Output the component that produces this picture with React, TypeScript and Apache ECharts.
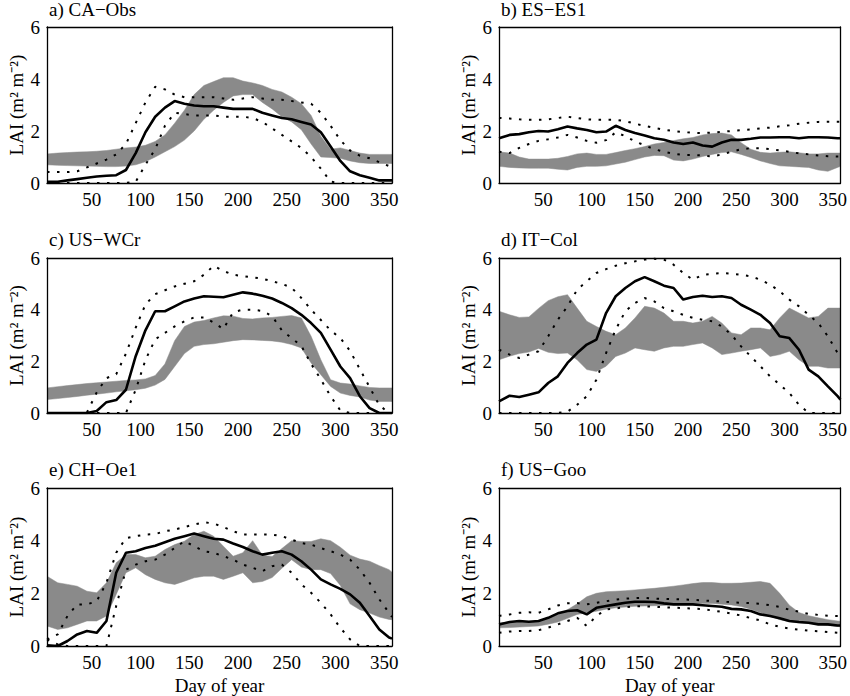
import { useEffect, useRef } from 'react'
import * as echarts from 'echarts'

// day of year of every sample
const days = [4, 15, 25, 35, 45, 55, 65, 75, 85, 95, 105, 115, 125, 135, 145, 155, 165, 175, 185, 195, 205, 215, 225, 235, 245, 255, 265, 275, 285, 295, 305, 315, 325, 335, 345, 355, 358]
const xTicks = [50, 100, 150, 200, 250, 300, 350]
const yTicks = [0, 2, 4, 6]

// a) CA-Obs
const caObsLine = [0.05, 0.05, 0.1, 0.15, 0.2, 0.25, 0.28, 0.3, 0.5, 1.15, 1.95, 2.55, 2.9, 3.15, 3.05, 2.98, 2.95, 2.95, 2.9, 2.85, 2.85, 2.85, 2.7, 2.6, 2.5, 2.45, 2.35, 2.25, 1.95, 1.4, 0.85, 0.45, 0.3, 0.2, 0.1, 0.1, 0.1]
const caObsLow = [0.7, 0.68, 0.67, 0.66, 0.65, 0.64, 0.63, 0.63, 0.65, 0.7, 0.82, 1.0, 1.2, 1.4, 1.65, 2.0, 2.45, 2.8, 3.1, 3.35, 3.4, 3.4, 3.1, 2.85, 2.55, 2.35, 2.05, 1.5, 1.0, 0.98, 0.95, 0.85, 0.78, 0.75, 0.75, 0.75, 0.75]
const caObsHigh = [1.12, 1.15, 1.17, 1.19, 1.2, 1.22, 1.25, 1.3, 1.35, 1.38, 1.45, 1.6, 1.85, 2.3, 2.8, 3.4, 3.75, 3.9, 4.05, 4.05, 3.92, 3.85, 3.75, 3.6, 3.5, 3.3, 3.05, 2.6, 1.8, 1.3, 1.35, 1.25, 1.15, 1.1, 1.1, 1.1, 1.1]
const caObsUpper = [0.42, 0.42, 0.42, 0.45, 0.6, 0.75, 0.9, 1.1, 1.5, 2.3, 3.1, 3.7, 3.6, 3.4, 3.3, 3.3, 3.3, 3.3, 3.25, 3.2, 3.25, 3.3, 3.25, 3.2, 3.2, 3.15, 3.1, 3.05, 2.7, 2.2, 1.65, 1.25, 1.05, 0.95, 0.8, 0.65, 0.6]
const caObsLower = [0, 0, 0, 0, 0, 0, 0, 0, 0, 0.05, 0.7, 1.3, 2.2, 2.7, 2.65, 2.6, 2.6, 2.6, 2.55, 2.55, 2.55, 2.5, 2.35, 2.1, 1.85, 1.6, 1.35, 1.0, 0.55, 0.05, 0, 0, 0, 0, 0, 0, 0]

// b) ES-ES1
const esEs1Line = [1.72, 1.85, 1.88, 1.95, 2.0, 1.98, 2.07, 2.17, 2.1, 2.04, 1.95, 1.98, 2.2, 2.04, 1.92, 1.83, 1.72, 1.66, 1.56, 1.5, 1.56, 1.44, 1.4, 1.56, 1.66, 1.66, 1.7, 1.75, 1.75, 1.76, 1.76, 1.72, 1.76, 1.76, 1.75, 1.72, 1.72]
const esEs1Low = [0.64, 0.6, 0.58, 0.57, 0.57, 0.57, 0.53, 0.5, 0.6, 0.64, 0.64, 0.66, 0.73, 0.8, 0.9, 1.0, 1.06, 1.05, 0.88, 0.85, 0.92, 1.02, 1.1, 1.17, 1.2, 1.1, 0.98, 0.85, 0.75, 0.66, 0.64, 0.62, 0.6, 0.5, 0.45, 0.6, 0.64]
const esEs1High = [1.2, 1.15, 1.0, 0.92, 0.92, 0.92, 0.95, 1.02, 1.12, 1.15, 1.1, 1.1, 1.17, 1.25, 1.32, 1.4, 1.5, 1.56, 1.63, 1.7, 1.75, 1.85, 1.9, 1.92, 1.85, 1.55, 1.3, 1.18, 1.15, 1.18, 1.2, 1.16, 1.12, 1.12, 1.15, 1.15, 1.15]
const esEs1Upper = [2.5, 2.48, 2.45, 2.43, 2.43, 2.45, 2.5, 2.55, 2.5, 2.45, 2.43, 2.43, 2.43, 2.38, 2.28, 2.2, 2.12, 2.05, 2.0, 1.96, 1.93, 1.92, 1.94, 1.97, 2.0, 2.03, 2.06, 2.1, 2.13, 2.18, 2.22, 2.28, 2.32, 2.35, 2.36, 2.36, 2.36]
const esEs1Lower = [1.2, 1.15, 1.35, 1.5, 1.62, 1.68, 1.75, 1.85, 1.75, 1.62, 1.55, 1.65, 1.95, 1.8, 1.6, 1.45, 1.3, 1.2, 1.12, 1.08, 1.08, 1.06, 1.02, 1.1, 1.2, 1.3, 1.34, 1.34, 1.3, 1.25, 1.2, 1.14, 1.1, 1.06, 1.03, 1.02, 1.02]

// c) US-WCr
const usWcrLine = [0, 0, 0, 0, 0, 0.08, 0.42, 0.5, 0.9, 2.2, 3.2, 3.94, 3.94, 4.13, 4.32, 4.43, 4.52, 4.5, 4.48, 4.58, 4.67, 4.62, 4.54, 4.43, 4.26, 4.06, 3.8, 3.48, 3.1, 2.45, 1.8, 1.35, 0.65, 0.19, 0, 0, 0]
const usWcrLow = [0.52, 0.56, 0.6, 0.64, 0.69, 0.73, 0.77, 0.82, 0.86, 0.9, 0.96, 1.08, 1.3, 1.8, 2.3, 2.58, 2.65, 2.68, 2.74, 2.8, 2.84, 2.83, 2.81, 2.79, 2.74, 2.65, 2.52, 1.94, 1.48, 1.03, 0.77, 0.68, 0.62, 0.5, 0.45, 0.45, 0.45]
const usWcrHigh = [0.97, 1.02, 1.06, 1.1, 1.14, 1.17, 1.2, 1.23, 1.26, 1.28, 1.32, 1.45, 1.9, 2.8, 3.35, 3.52, 3.58, 3.68, 3.76, 3.75, 3.66, 3.64, 3.68, 3.7, 3.74, 3.77, 3.68, 2.97, 2.06, 1.29, 1.16, 1.12, 1.05, 0.99, 0.97, 0.97, 0.97]
const usWcrUpper = [0, 0, 0, 0, 0.02, 0.8, 1.35, 1.5, 2.3, 3.3, 4.2, 4.6, 4.75, 4.9, 5.0, 5.1, 5.35, 5.7, 5.5, 5.35, 5.3, 5.25, 5.2, 5.1, 5.0, 4.85, 4.45, 4.0, 3.6, 3.2, 2.9, 2.4, 1.7, 1.0, 0.3, 0, 0]
const usWcrLower = [0, 0, 0, 0, 0, 0, 0, 0, 0, 0.9, 2.05, 2.85, 3.1, 3.35, 3.55, 3.7, 3.7, 3.5, 3.25, 3.9, 4.0, 4.0, 3.95, 3.75, 3.2, 2.9, 2.6, 1.9, 1.3, 0.65, 0.1, 0, 0, 0, 0, 0, 0]

// d) IT-Col
const itColLine = [0.45, 0.67, 0.62, 0.71, 0.8, 1.16, 1.42, 1.94, 2.32, 2.65, 2.84, 3.87, 4.52, 4.84, 5.1, 5.26, 5.1, 4.93, 4.84, 4.39, 4.49, 4.54, 4.49, 4.52, 4.45, 4.19, 4.0, 3.8, 3.48, 2.97, 2.9, 2.45, 1.68, 1.42, 1.03, 0.65, 0.52]
const itColLow = [2.06, 2.2, 2.3, 2.36, 2.5, 2.35, 2.3, 2.32, 2.06, 1.68, 1.61, 1.81, 2.19, 2.32, 2.52, 2.45, 2.39, 2.52, 2.58, 2.58, 2.65, 2.71, 2.52, 2.26, 2.32, 2.39, 2.45, 2.52, 2.19, 2.26, 2.39, 2.06, 1.81, 1.81, 1.74, 1.74, 1.74]
const itColHigh = [3.94, 3.8, 3.7, 3.72, 4.05, 4.35, 4.5, 4.58, 4.06, 3.55, 3.35, 3.16, 3.03, 3.29, 3.68, 4.13, 4.06, 3.87, 3.55, 3.55, 3.48, 3.55, 3.74, 3.48, 3.1, 3.03, 3.29, 3.29, 3.22, 3.68, 4.06, 3.87, 3.68, 3.74, 4.06, 4.06, 4.06]
const itColUpper = [2.45, 2.26, 2.13, 2.26, 2.39, 2.97, 3.61, 4.13, 4.77, 5.1, 5.42, 5.57, 5.7, 5.8, 5.87, 5.94, 5.97, 5.94, 5.74, 5.42, 5.16, 5.35, 5.39, 5.42, 5.39, 5.35, 5.29, 5.16, 4.97, 4.71, 4.39, 4.13, 3.8, 3.48, 2.97, 2.32, 2.2]
const itColLower = [0, 0, 0, 0, 0, 0, 0, 0.05, 0.32, 0.65, 1.29, 2.32, 3.23, 3.94, 4.26, 4.45, 4.32, 4.06, 3.94, 3.8, 3.68, 3.61, 3.55, 3.35, 3.03, 2.58, 2.19, 1.81, 1.42, 1.1, 0.77, 0.32, 0, 0, 0, 0, 0]

// e) CH-Oe1
const chOe1Line = [0.03, 0, 0.19, 0.44, 0.57, 0.5, 0.95, 2.78, 3.54, 3.6, 3.72, 3.81, 3.94, 4.07, 4.17, 4.27, 4.17, 4.07, 4.04, 3.89, 3.76, 3.6, 3.47, 3.54, 3.6, 3.47, 3.22, 2.9, 2.53, 2.34, 2.17, 1.96, 1.64, 1.14, 0.63, 0.32, 0.28]
const chOe1Low = [0.76, 0.63, 0.69, 0.82, 0.95, 0.95, 1.14, 1.96, 2.78, 2.97, 2.71, 2.53, 2.4, 2.34, 2.46, 2.59, 2.65, 2.65, 2.53, 2.65, 2.78, 2.4, 2.45, 2.6, 2.95, 3.28, 3.0, 2.9, 2.9, 2.75, 2.3, 1.6, 1.38, 1.25, 1.1, 1.01, 1.0]
const chOe1High = [2.65, 2.4, 2.34, 2.27, 2.08, 2.02, 2.4, 3.16, 3.47, 3.47, 3.35, 3.41, 3.66, 3.85, 3.98, 4.23, 4.36, 4.17, 3.79, 3.41, 3.54, 4.0, 3.45, 3.4, 3.7, 4.0, 3.97, 3.97, 4.07, 4.0, 3.75, 3.45, 3.3, 3.22, 3.05, 2.9, 2.8]
const chOe1Upper = [0.25, 0.44, 1.14, 1.58, 1.58, 1.7, 2.4, 3.54, 4.1, 4.17, 4.23, 4.25, 4.36, 4.42, 4.52, 4.61, 4.7, 4.65, 4.52, 4.36, 4.23, 4.23, 4.23, 4.23, 4.17, 4.04, 3.91, 3.85, 3.72, 3.6, 3.47, 3.28, 2.9, 2.4, 1.77, 1.26, 1.1]
const chOe1Lower = [0.25, 0.06, 0, 0, 0, 0, 0, 1.52, 2.9, 3.09, 3.22, 3.28, 3.47, 3.72, 3.98, 3.79, 3.6, 3.54, 3.41, 3.28, 3.09, 2.97, 2.84, 3.03, 3.09, 2.78, 2.34, 2.02, 1.64, 1.2, 0.69, 0.25, 0, 0, 0, 0, 0]

// f) US-Goo
const usGooLine = [0.82, 0.91, 0.95, 0.92, 0.95, 1.07, 1.24, 1.33, 1.36, 1.2, 1.45, 1.52, 1.58, 1.64, 1.68, 1.68, 1.67, 1.62, 1.58, 1.58, 1.58, 1.55, 1.52, 1.49, 1.41, 1.39, 1.33, 1.2, 1.14, 1.05, 0.95, 0.91, 0.88, 0.82, 0.82, 0.78, 0.78]
const usGooLow = [0.69, 0.7, 0.72, 0.74, 0.76, 0.83, 0.91, 1.05, 1.2, 1.26, 1.32, 1.4, 1.45, 1.48, 1.51, 1.52, 1.53, 1.54, 1.56, 1.58, 1.6, 1.61, 1.61, 1.59, 1.56, 1.5, 1.4, 1.26, 1.13, 1.0, 0.92, 0.87, 0.85, 0.82, 0.78, 0.74, 0.73]
const usGooHigh = [0.88, 0.9, 0.91, 0.93, 0.95, 1.05, 1.2, 1.38, 1.6, 1.87, 2.0, 2.06, 2.08, 2.1, 2.13, 2.16, 2.19, 2.23, 2.27, 2.32, 2.37, 2.41, 2.41, 2.38, 2.38, 2.39, 2.42, 2.45, 2.38, 2.0, 1.55, 1.27, 1.15, 1.07, 1.0, 0.95, 0.94]
const usGooUpper = [1.14, 1.2, 1.26, 1.28, 1.26, 1.39, 1.54, 1.62, 1.63, 1.58, 1.64, 1.7, 1.76, 1.8, 1.82, 1.83, 1.8, 1.79, 1.78, 1.77, 1.75, 1.73, 1.71, 1.69, 1.66, 1.64, 1.63, 1.6, 1.55, 1.48, 1.38, 1.3, 1.22, 1.18, 1.15, 1.14, 1.14]
const usGooLower = [0.5, 0.55, 0.57, 0.57, 0.6, 0.7, 0.82, 0.95, 1.07, 0.76, 1.14, 1.39, 1.43, 1.47, 1.51, 1.51, 1.49, 1.47, 1.46, 1.44, 1.42, 1.4, 1.35, 1.3, 1.23, 1.16, 1.06, 0.97, 0.82, 0.73, 0.66, 0.62, 0.58, 0.56, 0.53, 0.5, 0.5]

const panels = [
  { title: 'a) CA−Obs', line: caObsLine, low: caObsLow, high: caObsHigh, upper: caObsUpper, lower: caObsLower },
  { title: 'b) ES−ES1', line: esEs1Line, low: esEs1Low, high: esEs1High, upper: esEs1Upper, lower: esEs1Lower },
  { title: 'c) US−WCr', line: usWcrLine, low: usWcrLow, high: usWcrHigh, upper: usWcrUpper, lower: usWcrLower },
  { title: 'd) IT−Col', line: itColLine, low: itColLow, high: itColHigh, upper: itColUpper, lower: itColLower },
  { title: 'e) CH−Oe1', line: chOe1Line, low: chOe1Low, high: chOe1High, upper: chOe1Upper, lower: chOe1Lower },
  { title: 'f) US−Goo', line: usGooLine, low: usGooLow, high: usGooHigh, upper: usGooUpper, lower: usGooLower }
]

// plot boxes in pixels
const boxes = [
  { left: 47, top: 27, width: 345, height: 156 },
  { left: 499, top: 27, width: 345, height: 156 },
  { left: 47, top: 258, width: 345, height: 155 },
  { left: 499, top: 258, width: 345, height: 155 },
  { left: 47, top: 488, width: 345, height: 158 },
  { left: 499, top: 488, width: 345, height: 158 }
]

const FONT = 'Liberation Serif, Times New Roman, serif'
const BAND = '#8a8a8a'
const textStyle = { fontFamily: FONT, fontSize: 19, color: '#000', fontWeight: 'normal' as const }
const frame = { show: true, onZero: false, lineStyle: { color: '#000', width: 1.3 } }
const dotted = { color: '#000', width: 2, type: [2.5, 7.5] }

const pairs = (vals: number[]) => vals.map((v, i) => [days[i], v])

// gray min-max band as one polygon through the axes' own coordinates
const bandRenderer = (low: number[], high: number[]) => (params: any, api: any) => {
  if (params.dataIndex !== 0) return null
  const top = high.map((v, k) => api.coord([days[k], v]))
  const bottom = low.map((v, k) => api.coord([days[k], v])).reverse()
  return {
    type: 'polygon',
    shape: { points: top.concat(bottom) },
    style: { fill: BAND, stroke: BAND, lineWidth: 0.5 }
  }
}

const buildOption = () => {
  const grid: any[] = []
  const xAxis: any[] = []
  const yAxis: any[] = []
  const series: any[] = []
  const title: any[] = []

  panels.forEach((p, i) => {
    const b = boxes[i]
    grid.push({ ...b, show: false })
    title.push({ text: p.title, left: b.left + 2, top: Math.max(0, b.top - 28), padding: 0, textStyle })

    // bottom / left axes with labels
    xAxis.push({
      gridIndex: i, type: 'value', min: 4, max: 358, z: 5,
      axisLine: frame, axisTick: { show: false }, splitLine: { show: false },
      axisLabel: { ...textStyle, margin: 7, customValues: xTicks },
      name: i >= 4 ? 'Day of year' : '', nameLocation: 'middle', nameGap: 30, nameTextStyle: textStyle
    })
    yAxis.push({
      gridIndex: i, type: 'value', min: 0, max: 6, interval: 2, z: 5,
      axisLine: frame, axisTick: { show: false }, splitLine: { show: false },
      axisLabel: { ...textStyle, margin: 7, customValues: yTicks },
      name: 'LAI (m² m⁻²)', nameLocation: 'middle', nameGap: 21, nameTextStyle: textStyle
    })
    // top / right box edges
    xAxis.push({
      gridIndex: i, type: 'value', min: 4, max: 358, position: 'top', z: 5,
      axisLine: frame, axisTick: { show: false }, axisLabel: { show: false }, splitLine: { show: false }
    })
    yAxis.push({
      gridIndex: i, type: 'value', min: 0, max: 6, position: 'right', z: 5,
      axisLine: frame, axisTick: { show: false }, axisLabel: { show: false }, splitLine: { show: false }
    })

    const ax = { xAxisIndex: 2 * i, yAxisIndex: 2 * i, silent: true }
    series.push({
      ...ax, type: 'custom', clip: true, z: 1,
      data: days.map((d, k) => [d, p.low[k], p.high[k]]),
      encode: { x: 0, y: [1, 2] },
      renderItem: bandRenderer(p.low, p.high)
    })
    series.push({ ...ax, type: 'line', symbol: 'none', data: pairs(p.upper), lineStyle: dotted })
    series.push({ ...ax, type: 'line', symbol: 'none', data: pairs(p.lower), lineStyle: dotted })
    series.push({
      ...ax, type: 'line', symbol: 'none', data: pairs(p.line),
      lineStyle: { color: '#000', width: 2.6 }
    })
  })

  return { animation: false, backgroundColor: '#fff', title, grid, xAxis, yAxis, series }
}

const App: React.FC = () => {
  const chartRef = useRef<HTMLDivElement | null>(null)

  useEffect(() => {
    if (chartRef.current === null) return
    const chart = echarts.init(chartRef.current, undefined, { renderer: 'svg' })
    chart.setOption(buildOption())
    return () => {
      chart.dispose()
    }
  }, [])

  return (
    <div
      ref={chartRef}
      style={{ position: 'fixed', left: 0, top: 0, width: 850, height: 696, background: '#fff' }}
    ></div>
  )
}

export default App
